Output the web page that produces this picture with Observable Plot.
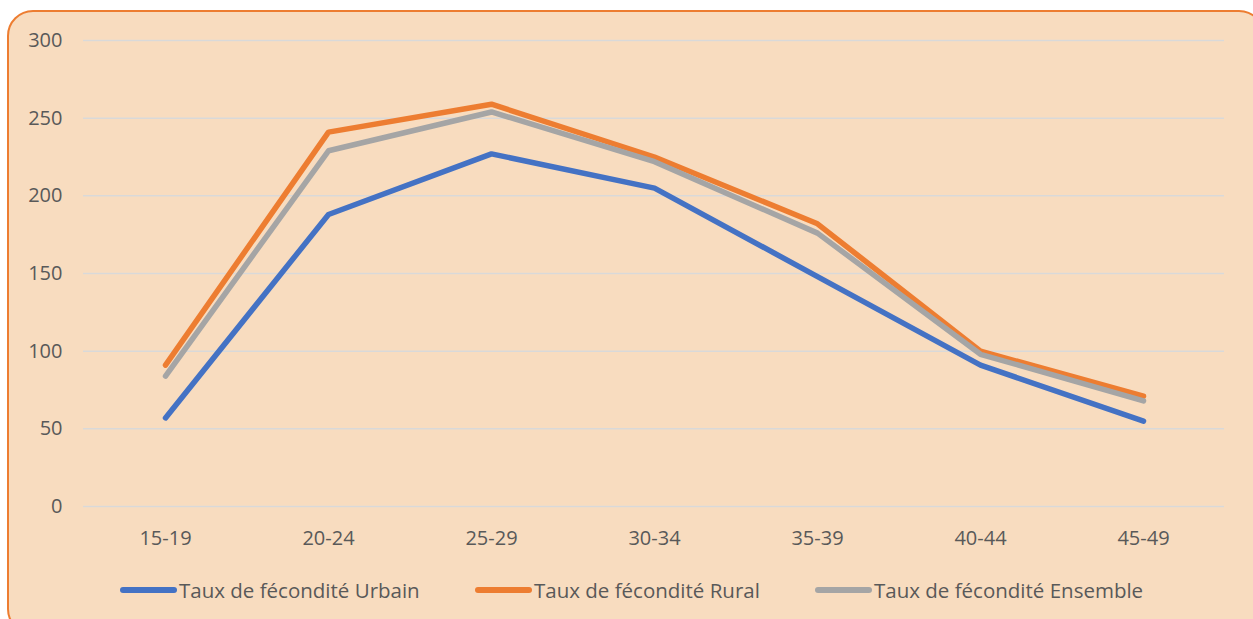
<!DOCTYPE html>
<html>
<head>
<meta charset="utf-8">
<script src="https://cdn.jsdelivr.net/npm/d3@7"></script>
<script src="https://cdn.jsdelivr.net/npm/@observablehq/plot@0.6"></script>
<style>
  html, body { margin: 0; padding: 0; width: 1253px; height: 619px; overflow: hidden; background: #ffffff; font-family: "Open Sans", "Noto Sans", sans-serif; }
  .frame { position: absolute; left: 7px; top: 10px; width: 1258px; height: 625px; box-sizing: border-box;
           border: 2px solid #ED7D31; border-radius: 26px; background: #F8DCBF; }
  #chart { position: absolute; left: 0; top: 0; }
  .legend { position: absolute; top: 576px; left: 0; width: 1253px; height: 28px; font-size: 20.5px; color: #595959; }
  .item { position: absolute; display: flex; align-items: center; white-space: nowrap; }
  .sw { width: 57px; height: 5.5px; border-radius: 3px; margin-right: 2px; }
</style>
</head>
<body>
<div class="frame"></div>
<div id="chart"></div>
<div class="legend" id="legend"></div>
<script>
const ageGroups = ["15-19", "20-24", "25-29", "30-34", "35-39", "40-44", "45-49"];
const seriesNames = ["Taux de fécondité Urbain", "Taux de fécondité Rural", "Taux de fécondité Ensemble"];
const urbain   = [57, 188, 227, 205, 148, 91, 55];
const rural    = [91, 241, 259, 225, 182, 100, 71];
const ensemble = [84, 229, 254, 222, 176, 98, 68];
const yTicks = [0, 50, 100, 150, 200, 250, 300];
const colors = ["#4472C4", "#ED7D31", "#A5A5A5"];

const allValues = [urbain, rural, ensemble];
const data = [];
seriesNames.forEach((s, i) => {
  ageGroups.forEach((g, j) => data.push({ series: s, age: g, value: allValues[i][j] }));
});

const chart = Plot.plot({
  width: 1253,
  height: 560,
  marginLeft: 83,
  marginRight: 29,
  marginTop: 40,
  marginBottom: 54,
  style: { background: "transparent", fontFamily: "'Open Sans', 'Noto Sans', sans-serif", fontSize: "20px", color: "#595959" },
  x: { type: "point", domain: ageGroups, padding: 0.5, label: null },
  y: { domain: [0, 300], label: null },
  color: { domain: seriesNames, range: colors },
  marks: [
    Plot.gridY(yTicks, { stroke: "#D9D9D9", strokeOpacity: 1, strokeWidth: 1.5 }),
    Plot.axisY(yTicks, { tickSize: 0, tickPadding: 21, fontSize: 20, fill: "#595959", label: null }),
    Plot.axisX({ tickSize: 0, tickPadding: 24, fontSize: 20, fill: "#595959", label: null }),
    Plot.line(data, { x: "age", y: "value", z: "series", stroke: "series", strokeWidth: 5.5, strokeLinecap: "round", strokeLinejoin: "round" })
  ]
});
document.getElementById("chart").appendChild(chart);

const legend = document.getElementById("legend");
const lefts = [120, 475, 815];
seriesNames.forEach((s, i) => {
  const item = document.createElement("div");
  item.className = "item";
  item.style.left = lefts[i] + "px";
  const sw = document.createElement("div");
  sw.className = "sw";
  sw.style.background = colors[i];
  const t = document.createElement("span");
  t.textContent = s;
  item.appendChild(sw);
  item.appendChild(t);
  legend.appendChild(item);
});
</script>
</body>
</html>
